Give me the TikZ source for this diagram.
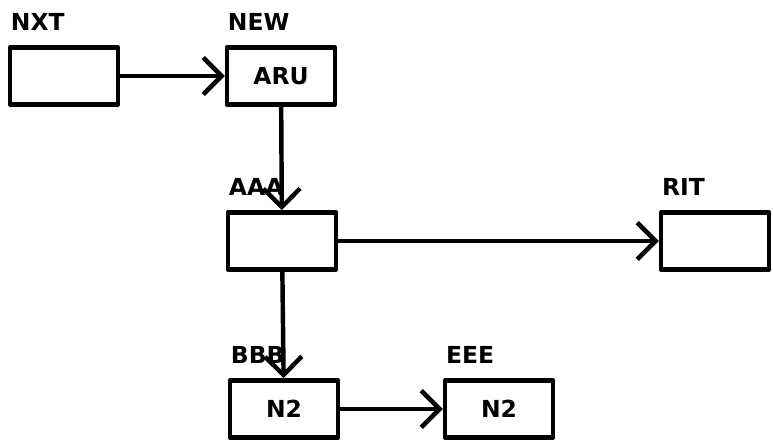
\documentclass[tikz,border=0pt]{standalone}
\usepackage{fontspec}
\setmainfont{DejaVu Sans}
\usetikzlibrary{arrows.meta}
\begin{document}
\begin{tikzpicture}[x=0.03cm, y=-0.03cm, font=\fontsize{20}{24}\selectfont\bfseries,
    line join=round, line cap=round, line width=3.8pt,
    >={Straight Barb[length=5.5mm, width=11mm]},
    box/.style={draw, minimum width=3.24cm, minimum height=1.72cm, inner sep=0pt},
    tag/.style={anchor=south west, inner sep=0pt, shift={(1,-12)}}]
    \useasboundingbox (0,0) rectangle (773,441);
    \path
    (64,76) coordinate (NXT)
    (281,76) coordinate (NEW)
    (282,241) coordinate (AAA)
    (715,241) coordinate (RIT)
    (284,409) coordinate (BBB)
    (499,409) coordinate (EEE)
    ;
    \foreach \i/\t in {NXT/, NEW/ARU, AAA/, RIT/, BBB/N2, EEE/N2}{
        \node[box] (b\i) at (\i) {\t};
        \node[tag] (l\i) at (b\i.north west) {\i};
    }
    \draw[->] (bNXT) -- (bNEW);
    \draw[->] (bNEW) -- (bAAA);
    \draw[->] (bAAA) -- (bRIT);
    \draw[->] (bAAA) -- (bBBB);
    \draw[->] (bBBB) -- (bEEE);
\end{tikzpicture}
\end{document}
